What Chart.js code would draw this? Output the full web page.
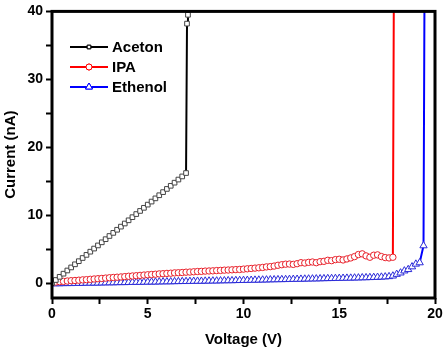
<!DOCTYPE html>
<html>
<head>
<meta charset="utf-8">
<script src="https://cdn.jsdelivr.net/npm/chart.js@4"></script>
<style>
    html, body { margin: 0; padding: 0; background: #ffffff; }
    #myChart { display: block; }
</style>
</head>
<body>
<canvas id="myChart" width="447" height="352"></canvas>
<script>
'use strict';

// Aceton: linear rise, then breakdown near 7 V
var acetonVoltage = [0, 0.2, 0.4, 0.6, 0.8, 1.0, 1.2, 1.4, 1.6, 1.8, 2.0, 2.2, 2.4, 2.6, 2.8, 3.0, 3.2, 3.4, 3.6, 3.8,
    4.0, 4.2, 4.4, 4.6, 4.8, 5.0, 5.2, 5.4, 5.6, 5.8, 6.0, 6.2, 6.4, 6.6, 6.8, 7.0, 7.05, 7.1, 7.12];
var acetonCurrent = [0, 0.45, 0.92, 1.38, 1.85, 2.3, 2.76, 3.22, 3.69, 4.15, 4.62, 5.08, 5.54, 6.0, 6.46, 6.93, 7.39, 7.85, 8.31, 8.77,
    9.24, 9.7, 10.16, 10.62, 11.08, 11.55, 12.0, 12.47, 12.93, 13.39, 13.86, 14.32, 14.78, 15.24, 15.7, 16.2, 38.2, 39.5, 42];

// IPA
var ipaVoltage = [0, 0.2, 0.4, 0.6, 0.8, 1.0, 1.2, 1.4, 1.6, 1.8, 2.0, 2.2, 2.4, 2.6, 2.8, 3.0, 3.2, 3.4, 3.6, 3.8,
    4.0, 4.2, 4.4, 4.6, 4.8, 5.0, 5.2, 5.4, 5.6, 5.8, 6.0, 6.2, 6.4, 6.6, 6.8, 7.0, 7.2, 7.4, 7.6, 7.8,
    8.0, 8.2, 8.4, 8.6, 8.8, 9.0, 9.2, 9.4, 9.6, 9.8, 10.0, 10.2, 10.4, 10.6, 10.8, 11.0, 11.2, 11.4, 11.6, 11.8,
    12.0, 12.2, 12.4, 12.6, 12.8, 13.0, 13.2, 13.4, 13.6, 13.8, 14.0, 14.2, 14.4, 14.6, 14.8, 15.0, 15.2, 15.4, 15.6, 15.8,
    16.0, 16.2, 16.4, 16.6, 16.8, 17.0, 17.2, 17.4, 17.6, 17.8, 17.85];
var ipaCurrent = [0.1, 0.15, 0.2, 0.25, 0.3, 0.35, 0.38, 0.42, 0.47, 0.5, 0.55, 0.6, 0.64, 0.68, 0.73, 0.78, 0.82, 0.86, 0.9, 0.95,
    1.0, 1.04, 1.08, 1.13, 1.18, 1.22, 1.26, 1.3, 1.35, 1.38, 1.42, 1.45, 1.5, 1.52, 1.55, 1.6, 1.62, 1.66, 1.7, 1.72,
    1.76, 1.78, 1.8, 1.84, 1.86, 1.9, 1.92, 1.95, 1.98, 2.0, 2.05, 2.1, 2.15, 2.2, 2.25, 2.3, 2.38, 2.42, 2.5, 2.62,
    2.7, 2.78, 2.8, 2.75, 2.85, 3.0, 2.95, 3.05, 3.1, 3.0, 3.15, 3.2, 3.35, 3.3, 3.45, 3.5, 3.4, 3.55, 3.7, 3.9,
    4.2, 4.3, 4.0, 3.8, 4.1, 4.15, 3.9, 3.75, 3.7, 3.8, 42];

// Ethenol
var ethenolVoltage = [0, 0.2, 0.4, 0.6, 0.8, 1.0, 1.2, 1.4, 1.6, 1.8, 2.0, 2.2, 2.4, 2.6, 2.8, 3.0, 3.2, 3.4, 3.6, 3.8,
    4.0, 4.2, 4.4, 4.6, 4.8, 5.0, 5.2, 5.4, 5.6, 5.8, 6.0, 6.2, 6.4, 6.6, 6.8, 7.0, 7.2, 7.4, 7.6, 7.8,
    8.0, 8.2, 8.4, 8.6, 8.8, 9.0, 9.2, 9.4, 9.6, 9.8, 10.0, 10.2, 10.4, 10.6, 10.8, 11.0, 11.2, 11.4, 11.6, 11.8,
    12.0, 12.2, 12.4, 12.6, 12.8, 13.0, 13.2, 13.4, 13.6, 13.8, 14.0, 14.2, 14.4, 14.6, 14.8, 15.0, 15.2, 15.4, 15.6, 15.8,
    16.0, 16.2, 16.4, 16.6, 16.8, 17.0, 17.2, 17.4, 17.6, 17.8, 18.0, 18.2, 18.4, 18.6, 18.8, 19.0, 19.2, 19.4, 19.45];
var ethenolCurrent = [-0.1, -0.09, -0.09, -0.07, -0.06, -0.06, -0.04, -0.03, -0.03, -0.01, 0, 0.01, 0.01, 0.03, 0.04, 0.05, 0.05, 0.07, 0.08, 0.08,
    0.1, 0.11, 0.12, 0.12, 0.14, 0.15, 0.16, 0.16, 0.18, 0.19, 0.2, 0.2, 0.22, 0.23, 0.24, 0.24, 0.26, 0.27, 0.28, 0.28,
    0.3, 0.31, 0.32, 0.32, 0.34, 0.35, 0.36, 0.36, 0.38, 0.39, 0.4, 0.41, 0.42, 0.44, 0.45, 0.46, 0.47, 0.49, 0.5, 0.51,
    0.52, 0.53, 0.55, 0.56, 0.57, 0.58, 0.6, 0.61, 0.62, 0.63, 0.64, 0.66, 0.67, 0.68, 0.69, 0.7, 0.72, 0.73, 0.74, 0.76,
    0.77, 0.79, 0.8, 0.82, 0.84, 0.86, 0.89, 0.92, 0.96, 1.05, 1.3, 1.5, 1.8, 2.0, 2.4, 2.8, 3.0, 5.5, 42];

var seriesNames = ['Aceton', 'IPA', 'Ethenol'];
var seriesColours = ['#000000', '#ff0000', '#0000ff'];
var seriesMarkers = ['rect', 'circle', 'triangle'];

var xTickLabels = [0, 5, 10, 15, 20];
var yTickLabels = [0, 10, 20, 30, 40];

var chart;

function ToPoints(xs, ys) {
    var points = [];
    for (var i = 0; i < xs.length; i++) {
        points.push({ x: xs[i], y: ys[i] });
    }
    return points;
}

// Draws the black box round the plot area
var framePlugin = {
    id: 'frame',
    afterDraw: function (c) {
        var a = c.chartArea;
        var ctx = c.ctx;
        ctx.save();
        ctx.strokeStyle = '#000000';
        ctx.lineWidth = 3;
        ctx.strokeRect(a.left, a.top, a.right - a.left, a.bottom - a.top);
        ctx.restore();
    }
};

// Legend with line + marker, as in the original figure
var legendPlugin = {
    id: 'lineLegend',
    afterDraw: function (c) {
        var ctx = c.ctx;
        var rows = [47, 67, 87];
        var sizes = [2.5, 3, 4];
        ctx.save();
        for (var i = 0; i < seriesNames.length; i++) {
            var y = rows[i];
            ctx.strokeStyle = seriesColours[i];
            ctx.lineWidth = 2;
            ctx.beginPath();
            ctx.moveTo(70, y);
            ctx.lineTo(108, y);
            ctx.stroke();

            ctx.fillStyle = '#ffffff';
            ctx.lineWidth = 1;
            Chart.helpers.drawPoint(ctx, {
                pointStyle: seriesMarkers[i],
                radius: sizes[i],
                borderWidth: 1,
                rotation: 0
            }, 89, y);
            ctx.fill();
            ctx.stroke();

            ctx.fillStyle = '#000000';
            ctx.font = 'bold 15px "Liberation Sans", Arial, sans-serif';
            ctx.textBaseline = 'middle';
            ctx.textAlign = 'left';
            ctx.fillText(seriesNames[i], 112, y + 1);
        }
        ctx.restore();
    }
};

window.onload = function () {
    Chart.defaults.font.family = '"Liberation Sans", Arial, sans-serif';
    Chart.defaults.font.weight = 'bold';
    Chart.defaults.color = '#000000';

    var allData = [
        ToPoints(acetonVoltage, acetonCurrent),
        ToPoints(ipaVoltage, ipaCurrent),
        ToPoints(ethenolVoltage, ethenolCurrent)
    ];
    var radii = [3.3, 3.2, 4.2];
    var markerBorders = ['#444444', '#e8202a', '#2a2ad8'];

    var datasets = [];
    for (var i = 0; i < seriesNames.length; i++) {
        datasets.push({
            label: seriesNames[i],
            data: allData[i],
            borderColor: seriesColours[i],
            backgroundColor: '#ffffff',
            borderWidth: 2,
            pointStyle: seriesMarkers[i],
            pointRadius: radii[i],
            pointBorderWidth: 1,
            pointBorderColor: markerBorders[i],
            pointBackgroundColor: '#ffffff',
            tension: 0,
            fill: false
        });
    }

    chart = new Chart(document.getElementById('myChart'), {
        type: 'line',
        data: { datasets: datasets },
        plugins: [framePlugin, legendPlugin],
        options: {
            responsive: false,
            animation: false,
            devicePixelRatio: 1,
            layout: {
                padding: { top: 11, right: 12, left: 0, bottom: 0 }
            },
            plugins: {
                legend: { display: false },
                tooltip: { enabled: false }
            },
            scales: {
                x: {
                    type: 'linear',
                    min: 0,
                    max: 20,
                    afterFit: function (scale) { scale.height = 54; },
                    border: { display: false },
                    grid: {
                        drawOnChartArea: false,
                        drawTicks: true,
                        tickLength: 6,
                        tickWidth: 2,
                        tickColor: '#000000'
                    },
                    ticks: {
                        stepSize: 2.5,
                        autoSkip: false,
                        maxRotation: 0,
                        padding: 2,
                        font: { size: 14, weight: 'bold' },
                        callback: function (value) {
                            return xTickLabels.indexOf(value) >= 0 ? String(value) : '';
                        }
                    },
                    title: {
                        display: true,
                        text: 'Voltage (V)',
                        font: { size: 15, weight: 'bold' },
                        padding: { top: 0, bottom: 3 }
                    }
                },
                y: {
                    type: 'linear',
                    min: -2.2,
                    max: 40,
                    afterFit: function (scale) { scale.width = 52; },
                    border: { display: false },
                    grid: {
                        drawOnChartArea: false,
                        drawTicks: true,
                        tickLength: 6,
                        tickWidth: 2,
                        tickColor: '#000000'
                    },
                    ticks: {
                        stepSize: 5,
                        includeBounds: false,
                        autoSkip: false,
                        padding: 3,
                        font: { size: 14, weight: 'bold' },
                        callback: function (value) {
                            return yTickLabels.indexOf(value) >= 0 ? String(value) : '';
                        }
                    },
                    title: {
                        display: true,
                        text: 'Current (nA)',
                        font: { size: 15, weight: 'bold' },
                        padding: { top: 2, bottom: 0 }
                    }
                }
            }
        }
    });
};
</script>
</body>
</html>
